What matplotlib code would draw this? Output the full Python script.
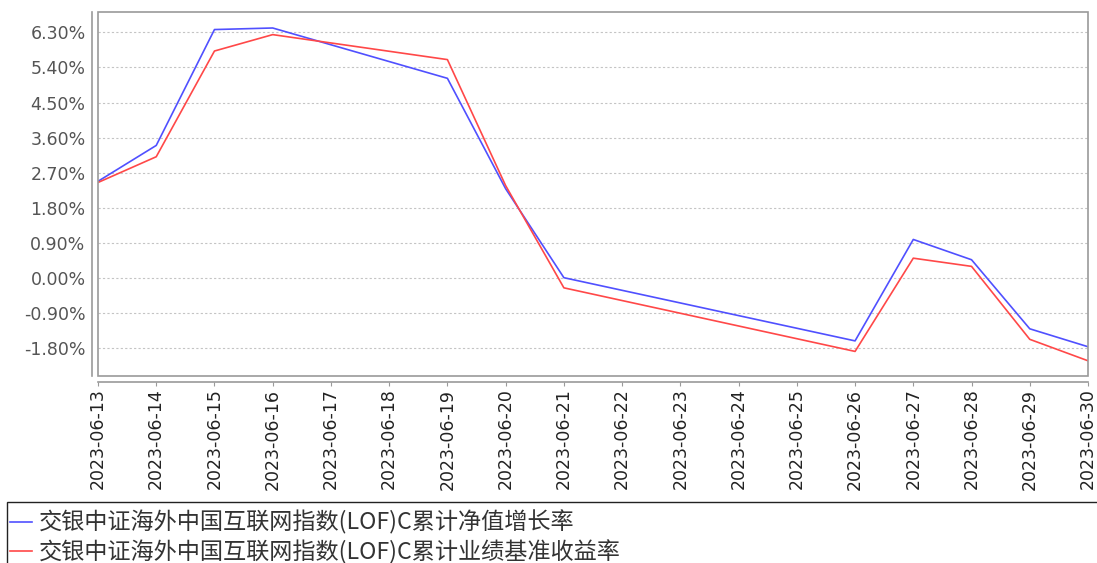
import matplotlib
matplotlib.use("Agg")
import matplotlib.pyplot as plt
import matplotlib.dates as mdates
from matplotlib.patches import Rectangle
from matplotlib.ticker import FixedLocator, FuncFormatter
import pandas as pd

plt.rcParams['font.family'] = ['Noto Sans CJK SC', 'DejaVu Sans']

# trading days only, the axis still shows every calendar day
dates = ["2023-06-13", "2023-06-14", "2023-06-15", "2023-06-16", "2023-06-19",
         "2023-06-20", "2023-06-21", "2023-06-26", "2023-06-27", "2023-06-28",
         "2023-06-29", "2023-06-30"]
nav_growth = [2.48, 3.40, 6.37, 6.41, 5.12, 2.29, 0.01, -1.61, 0.99, 0.47, -1.30, -1.76]
bench_return = [2.45, 3.11, 5.82, 6.24, 5.60, 2.37, -0.25, -1.88, 0.51, 0.30, -1.57, -2.12]
yticks = [-1.80, -0.90, 0.00, 0.90, 1.80, 2.70, 3.60, 4.50, 5.40, 6.30]
labels = ["交银中证海外中国互联网指数(LOF)C累计净值增长率",
          "交银中证海外中国互联网指数(LOF)C累计业绩基准收益率"]

x = pd.to_datetime(dates)

W, H = 1097, 563
fig = plt.figure(figsize=(W / 100, H / 100), dpi=100)
ax = fig.add_axes([98 / W, 1 - 376 / H, (1088 - 98) / W, (376 - 12) / H])

l1, = ax.plot(x, nav_growth, color='#5050ff', lw=1.2)
l2, = ax.plot(x, bench_return, color='#ff4848', lw=1.2)

ax.set_xlim(pd.Timestamp("2023-06-13"), pd.Timestamp("2023-06-30"))
ax.set_ylim(-2.51, 6.82)

ax.xaxis.set_major_locator(mdates.DayLocator())
ax.xaxis.set_major_formatter(mdates.DateFormatter('%Y-%m-%d'))
ax.yaxis.set_major_locator(FixedLocator(yticks))
ax.yaxis.set_major_formatter(FuncFormatter(lambda v, p: "%.2f%%" % v))

ax.grid(axis='y', color='#c4c4c4', linestyle=(0, (2, 2)), linewidth=0.8)
ax.set_axisbelow(True)

# plot box plus detached axis lines
ax.add_patch(Rectangle((0, 0), 1, 1, transform=ax.transAxes, fill=False,
                       edgecolor='#9a9a9a', linewidth=1.2, clip_on=False, zorder=5))
for s in ['top', 'right']:
    ax.spines[s].set_visible(False)
for s in ['left', 'bottom']:
    ax.spines[s].set_position(('outward', 4))
    ax.spines[s].set_color('#9a9a9a')
    ax.spines[s].set_linewidth(1.2)

ax.tick_params(axis='x', labelrotation=90, labelsize=12.5, colors='#9a9a9a', length=3, pad=2)
ax.tick_params(axis='x', labelcolor='#222222')
ax.tick_params(axis='y', labelsize=12.5, labelcolor='#555555', length=0, pad=5)
for t in ax.get_xticklabels() + ax.get_yticklabels():
    t.set_family('DejaVu Sans')

# legend box runs off the right and bottom edges
fig.patches.append(Rectangle((7 / W, -0.1), 1.2, 1.1 - 502 / H, transform=fig.transFigure,
                             fill=False, edgecolor='#222222', linewidth=1.0))
fig.legend([l1, l2], labels, loc='upper left', bbox_to_anchor=(8 / W, 1 - 508 / H),
           frameon=False, handlelength=0.95, handletextpad=0.3, labelspacing=0.22,
           borderaxespad=0, borderpad=0.1, labelcolor='#333333',
           prop={'family': ['Noto Sans CJK SC', 'DejaVu Sans'], 'size': 16.7})

fig.savefig('out.png', dpi=100)
